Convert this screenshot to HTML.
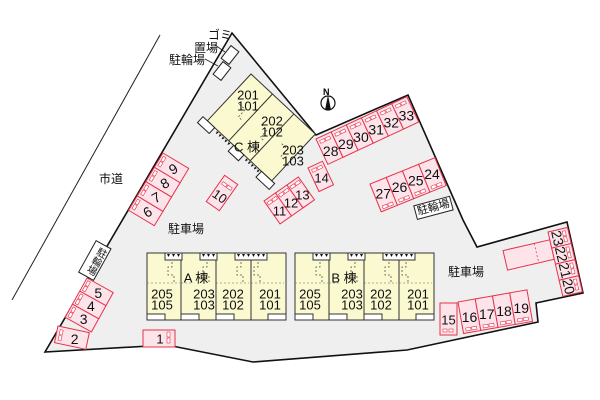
<!DOCTYPE html>
<html><head><meta charset="utf-8"><style>
html,body{margin:0;padding:0;background:#fff;width:600px;height:400px;overflow:hidden}
svg{display:block;font-family:"Liberation Sans","Noto Sans CJK JP",sans-serif}
</style></head><body>
<svg id="s" width="600" height="400" viewBox="0 0 600 400" xmlns="http://www.w3.org/2000/svg">
<line x1="160" y1="35" x2="12" y2="300" stroke="#222" stroke-width="1"/>
<polygon points="232,33 316,135 408,95 463,220 477,247 567,222 583,293 536,303 538,322 407,350 253,362 167,345 45,352" fill="#efefef" stroke="#111" stroke-width="1.6"/>
<g id="dyn"></g>
<g font-size="12" fill="#111">
<text x="208" y="39">ゴミ</text>
<text x="194" y="52">置場</text>
<text x="169" y="64">駐輪場</text>
<text x="99" y="183">市道</text>
<text x="168" y="233">駐車場</text>
<text x="448" y="276">駐車場</text>
</g>
<line x1="215" y1="45" x2="225" y2="52" stroke="#222" stroke-width="0.8"/>
<line x1="205" y1="59" x2="218" y2="66" stroke="#222" stroke-width="0.8"/>
<g transform="translate(230,55) rotate(-52)"><rect x="-8" y="-5" width="16" height="10" fill="#fff" stroke="#222"/></g>
<g transform="translate(222,71) rotate(-52)"><rect x="-8" y="-5" width="16" height="10" fill="#fff" stroke="#222"/></g>
<text x="323" y="95" font-size="9" font-weight="bold">N</text>
<circle cx="328" cy="103" r="7" fill="#fff" stroke="#111" stroke-width="1.2"/>
<polygon points="328,95 325,110 331,110" fill="#111"/>
</svg>
<script>
var out="";
var PF="#fde4ea",PS="#e6324b",YF="#fbf9d0";
function mini(x,y,vert){
 if(vert) return '<rect x="'+x+'" y="'+y+'" width="3" height="5" fill="#fff" stroke="'+PS+'" stroke-width="0.6"/><rect x="'+x+'" y="'+(y+6)+'" width="3" height="5" fill="#fff" stroke="'+PS+'" stroke-width="0.6"/>';
 return '<rect x="'+x+'" y="'+y+'" width="5" height="3" fill="#fff" stroke="'+PS+'" stroke-width="0.6"/><rect x="'+(x+6)+'" y="'+y+'" width="5" height="3" fill="#fff" stroke="'+PS+'" stroke-width="0.6"/>';
}
function rect(x,y,w,h){return '<rect x="'+x+'" y="'+y+'" width="'+w+'" height="'+h+'" fill="'+PF+'" stroke="'+PS+'" stroke-width="1"/>';}
function txt(x,y,t,rot,fs){fs=fs||13;return '<text x="'+x+'" y="'+y+'" font-size="'+fs+'" text-anchor="middle" dominant-baseline="central" fill="#111" transform="rotate('+rot+' '+x+' '+y+')">'+t+'</text>';}
function grp(tx,ty,a,inner){return '<g transform="translate('+tx+','+ty+') rotate('+a+')">'+inner+'</g>';}
var s="",i,x,y,L;
for(i=0;i<6;i++){x=i*16.7;s+=rect(x,0,16.7,28)+mini(x+2.5,3,0)+txt(x+8.3,17,28+i,25,14);}
out+=grp(316,139,-25,s);
s="";L=[27,26,25,24];for(i=0;i<4;i++){x=i*17.5;s+=rect(x,0,17.5,30)+mini(x+3,25,0)+txt(x+8.7,14,L[i],22,14);}
out+=grp(370,184,-22,s);
out+=grp(433,208,-15,'<rect x="-18" y="-7" width="37" height="14" fill="#fff" stroke="#222"/>'+txt(0.5,0,"駐輪場",0,11));
s="";for(i=0;i<3;i++){x=i*14;s+=rect(x,0,14,28)+mini(x+1.5,3,0)+txt(x+7,17,11+i,35,13);}
out+=grp(264,201,-35,s);
out+=grp(308,168,-25,rect(0,0,16,26)+mini(2.5,3,0)+txt(8,15,14,25,13));
s="";L=[9,8,7,6];for(i=0;i<4;i++){y=i*16.7;s+=rect(0,y,30,16.7)+mini(2,y+2.5,1)+txt(17,y+8.3,L[i],-60,14);}
out+=grp(163,153,31,s);
s="";L=[5,4,3];for(i=0;i<3;i++){y=i*15;s+=rect(0,y,30,15)+mini(2,y+2,1)+txt(17,y+7.5,L[i],-29,14);}
out+=grp(87,278,29,s);
out+=grp(104,245,29,'<rect x="-9" y="0" width="17" height="36" fill="#fff" stroke="#222"/><text x="0" y="3" font-size="10" fill="#111" style="writing-mode:vertical-rl">駐輪場</text>');
out+=grp(58,326,12,rect(0,0,32,17)+mini(3,3,1)+txt(19,9,2,-12,14));
out+=rect(143,330,32,17)+mini(167,332,1)+txt(160,339,1,0,13);
out+=grp(222,193,-55,rect(-16,-8,32,16)+mini(7,-5.5,1)+txt(-4,0,10,90,13));
out+=rect(440,303,17,32)+'<rect x="443" y="329" width="4" height="3" fill="#fff" stroke="'+PS+'" stroke-width="0.6"/><rect x="449" y="329" width="4" height="3" fill="#fff" stroke="'+PS+'" stroke-width="0.6"/>'+txt(448.5,320,15,0,13);
s="";for(i=0;i<4;i++){x=i*17.5;s+=rect(x,0,17.5,32)+mini(x+3,27,0)+txt(x+8.7,17,16+i,10,14);}
out+=grp(458,302,-10,s);
s=rect(-48,8,48,20)+'<line x1="-16" y1="8" x2="-16" y2="28" stroke="'+PS+'" stroke-dasharray="2,2" stroke-width="0.7"/>';
L=[23,22,21,20];for(i=0;i<4;i++){y=i*16.5;s+=rect(0,y,20,16.5)+mini(14,y+2.5,1)+txt(8,y+8.2,L[i],90,14);}
out+=grp(548,232,-13,s);
s='<rect x="0" y="0" width="88" height="64" fill="'+YF+'" stroke="#333" stroke-width="1"/><line x1="29.3" y1="0" x2="29.3" y2="64" stroke="#333"/><line x1="58.6" y1="0" x2="58.6" y2="64" stroke="#333"/>';
s+='<rect x="-6" y="64" width="16" height="8" fill="#fff" stroke="#222"/><rect x="36" y="64" width="14" height="8" fill="#fff" stroke="#222"/><rect x="74" y="64" width="18" height="8" fill="#fff" stroke="#222"/>';
[14,18,22,26,30,54,58,62,66,70].forEach(function(v){s+='<polygon points="'+v+',65 '+(v+2.5)+',65 '+(v+1.2)+',68" fill="#111"/>';});
s+='<path d="M12,30 h8 v10 h6 M42,30 h8 v10 h6 M70,30 h8 v10 h6" fill="none" stroke="#555" stroke-dasharray="2,2" stroke-width="0.8"/>';
out+=grp(251,74,43,s);
out+=txt(248,95,"201",0,13)+txt(248,106,"101",0,13)+txt(272,121,"202",0,13)+txt(272,132,"102",0,13)+txt(293,150,"203",0,13)+txt(293,161,"103",0,13)+txt(247,147,"C 棟",0,13);
function bld(ox,name){
 var r='<g transform="translate('+ox+',0)">';
 r+='<rect x="147" y="253" width="139" height="67" fill="'+YF+'" stroke="#333"/>';
 [181,216,251].forEach(function(v){r+='<line x1="'+v+'" y1="253" x2="'+v+'" y2="320" stroke="#333"/>';});
 [[165,182],[200,217],[235,267]].forEach(function(n){r+='<rect x="'+n[0]+'" y="253" width="'+(n[1]-n[0])+'" height="7" fill="#fff" stroke="#333"/>';
   for(var t=n[1]-5;t>n[0]+1;t-=5)r+='<polygon points="'+t+',254 '+(t+3)+',254 '+(t+1.5)+',257" fill="#111"/>';});
 [[147,165],[181,199],[216,234],[268,286]].forEach(function(b){r+='<rect x="'+b[0]+'" y="314" width="'+(b[1]-b[0])+'" height="6" fill="#fff" stroke="#333"/>';});
 r+='<path d="M172,262 v5 h-4 v8 h6 v8 M207,262 v5 h-4 v8 h6 v8 M241,262 v5 h-4 v8 h6 v8 M258,262 v5 h-4 v8 h6 v8" fill="none" stroke="#555" stroke-dasharray="2,2" stroke-width="0.8"/>';
 r+='<path d="M147,283 h33 M181,283 h12 M216,283 h33 M251,283 h33" stroke="#666" stroke-dasharray="2,2" stroke-width="0.6"/>';
 r+=txt(162,294,"205")+txt(162,305,"105")+txt(204,294,"203")+txt(204,305,"103")+txt(233,294,"202")+txt(233,305,"102")+txt(270,294,"201")+txt(270,305,"101");
 r+=txt(196,278,name+" 棟");
 return r+'</g>';
}
out+=bld(0,"A")+bld(148,"B");
document.getElementById("dyn").innerHTML=out;
</script>
</body></html>
